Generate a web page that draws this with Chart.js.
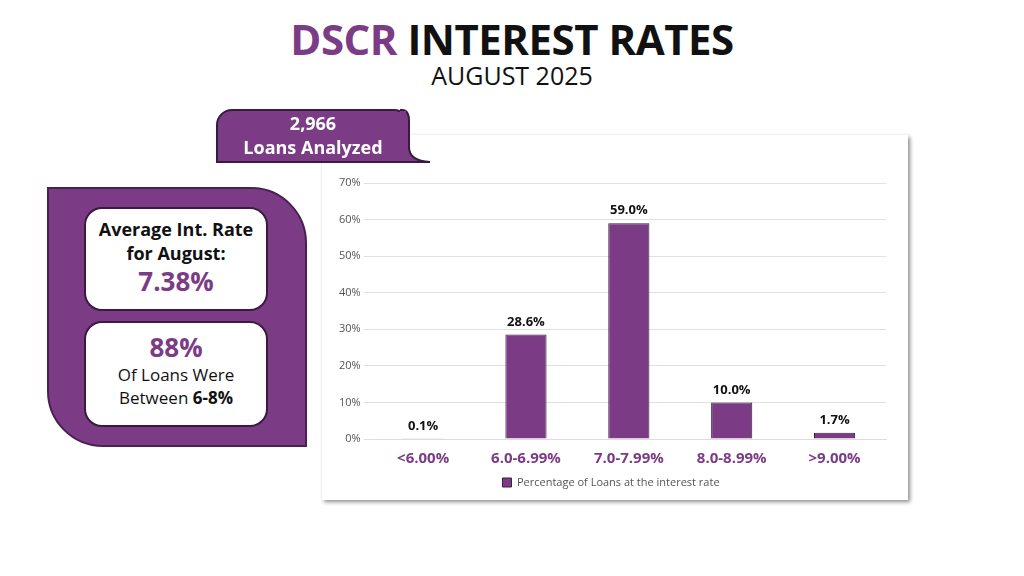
<!DOCTYPE html>
<html><head><meta charset="utf-8">
<script src="https://cdn.jsdelivr.net/npm/chart.js@4"></script>
<style>
body{margin:0;width:1024px;height:576px;background:#fff;position:relative;overflow:hidden;font-family:"Open Sans",sans-serif}
.t{position:absolute;left:0;width:1024px;text-align:center}
#title{top:10px;font-size:42px;font-weight:700;letter-spacing:-0.5px;color:#111}
#title span{color:#7B3C85}
#sub{top:58px;font-size:25px;color:#111}
#panel{position:absolute;left:47px;top:187px;width:256px;height:256px;background:#7B3C85;border:2px solid #4a1f52;border-radius:0 56px 0 56px}
.box{position:absolute;left:35px;width:180px;background:#fff;border:2px solid #3a1a40;border-radius:18px;text-align:center;color:#111}
#badge{position:absolute;left:216px;top:109px;width:190px;height:50px;background:#7B3C85;border:2px solid #3a1a40;border-radius:16px 16px 0 0;color:#fff;text-align:center;font-weight:700;font-size:18px;line-height:24px}
#tail{position:absolute;left:400px;top:109px}
#card{position:absolute;left:322px;top:135px;width:586px;height:365px;background:#fff;box-shadow:2px 2px 4px rgba(0,0,0,0.45)}
</style></head><body>
<div class="t" id="title"><span>DSCR</span> INTEREST RATES</div>
<div class="t" id="sub">AUGUST 2025</div>
<div id="card"><canvas id="c" width="586" height="365"></canvas></div>
<div id="badge">2,966<br>Loans Analyzed</div>
<svg id="tail" width="32" height="56"><path d="M0 1 L2 1 Q9 1 9 12 L9 38 Q9 52 30 53 L0 53 Z" fill="#7B3C85" stroke="#3a1a40" stroke-width="2"/><rect x="0" y="2" width="6" height="50" fill="#7B3C85"/></svg>
<div id="panel">
 <div class="box" style="top:18px;height:100px">
  <div style="font-weight:700;font-size:18px;line-height:24px;margin-top:8px">Average Int. Rate<br>for August:</div>
  <div style="font-weight:700;font-size:26px;color:#7B3C85;line-height:32px">7.38%</div>
 </div>
 <div class="box" style="top:132px;height:102px">
  <div style="font-weight:700;font-size:26px;color:#7B3C85;line-height:32px;margin-top:8px">88%</div>
  <div style="font-size:17px;line-height:23px">Of Loans Were<br>Between <b>6-8%</b></div>
 </div>
</div>
<script>
const categories=["<6.00%","6.0-6.99%","7.0-7.99%","8.0-8.99%",">9.00%"];
const values=[0.1,28.6,59.0,10.0,1.7];
const seriesName="Percentage of Loans at the interest rate";
const labelPlugin={id:"lbl",afterDatasetsDraw(ch){const ctx=ch.ctx;const m=ch.getDatasetMeta(0);ctx.save();ctx.font="bold 13px 'Open Sans'";ctx.fillStyle="#111";ctx.textAlign="center";ctx.textBaseline="bottom";m.data.forEach((b,i)=>ctx.fillText(values[i].toFixed(1)+"%",b.x,b.y-6));ctx.restore();}};
new Chart(document.getElementById("c"),{type:"bar",
data:{labels:categories,datasets:[{label:seriesName,data:values,backgroundColor:"#7B3C85",borderColor:"#3a1a40",borderWidth:1,barPercentage:0.4,categoryPercentage:1}]},
options:{responsive:false,animation:false,layout:{padding:{top:48,right:22,left:14,bottom:2}},
scales:{y:{min:0,max:70,ticks:{stepSize:10,callback:v=>v+"%",color:"#555",font:{size:11,family:"Open Sans"}},grid:{color:"#e0e0e0"},border:{display:false}},
x:{grid:{display:false},border:{color:"#ddd"},ticks:{color:"#7B3C85",font:{size:15,weight:"bold",family:"Open Sans"}}}},
plugins:{legend:{position:"bottom",labels:{boxWidth:9,boxHeight:9,color:"#555",font:{size:11,family:"Open Sans"},padding:6}},tooltip:{enabled:false}}},
plugins:[labelPlugin]});
</script></body></html>
